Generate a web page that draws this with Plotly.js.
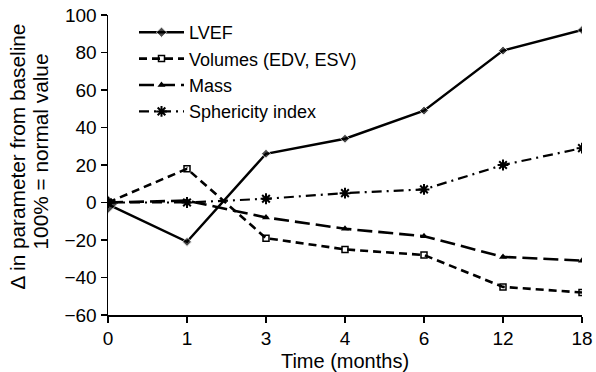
<!DOCTYPE html>
<html>
<head>
<meta charset="utf-8">
<script src="https://cdn.plot.ly/plotly-3.0.1.min.js"></script>
<style>html,body{margin:0;padding:0;background:#fff}#chart{width:596px;height:372px}</style>
</head>
<body>
<div id="chart"></div>
<script>
const months = ["0", "1", "3", "4", "6", "12", "18"];
const lvef = [-1, -21, 26, 34, 49, 81, 92];
const volumes = [0, 18, -19, -25, -28, -45, -48];
const mass = [0, 1, -8, -14, -18, -29, -31];
const sphericity = [0, 0, 2, 5, 7, 20, 29];
const seriesNames = ["LVEF", "Volumes (EDV, ESV)", "Mass", "Sphericity index"];
const yTitleLines = ["Δ in parameter from baseline", "100% = normal value"];
const xTitle = "Time (months)";

const FONT = "Liberation Sans, Arial, Helvetica, sans-serif";
const lvefSize = months.map((m, i) => i === 0 ? 14 : 7);

const traces = [
  {x: months, y: lvef, name: seriesNames[0], mode: "lines+markers",
   line: {color: "#000", width: 2.4, dash: "solid"},
   marker: {symbol: "diamond", size: lvefSize, color: "#000"}},
  {x: months, y: volumes, name: seriesNames[1], mode: "lines+markers",
   line: {color: "#000", width: 2.6, dash: "8px,5px"},
   marker: {symbol: "square-open", size: 6, color: "#000", line: {width: 1.5}}},
  {x: months, y: mass, name: seriesNames[2], mode: "lines+markers",
   line: {color: "#000", width: 2.6, dash: "15px,6px"},
   marker: {symbol: "triangle-up", size: 7, color: "#000"}},
  {x: months, y: sphericity, name: seriesNames[3], mode: "lines+markers",
   line: {color: "#000", width: 2.2, dash: "10px,5px,2px,5px"},
   marker: {symbol: "asterisk-open", size: 9, color: "#000", line: {width: 2, color: "#000"}}}
];

const PL = 108, PW = 474, PT = 15, PH = 300;
const px2x = p => (p - PL) / PW;
const px2y = p => 1 - (p - PT) / PH;

const layout = {
  width: 596, height: 372,
  margin: {l: PL, r: 596 - PL - PW, t: PT, b: 372 - PT - PH},
  paper_bgcolor: "#fff", plot_bgcolor: "#fff",
  font: {family: FONT, size: 19, color: "#000"},
  showlegend: true,
  legend: {x: px2x(134), y: px2y(14), xanchor: "left", yanchor: "top",
           bgcolor: "rgba(0,0,0,0)", font: {family: FONT, size: 18, color: "#000"},
           itemwidth: 45, tracegroupgap: 0},
  xaxis: {type: "category", range: [0, 6], showgrid: false, zeroline: false,
          showline: true, linecolor: "#000", linewidth: 1.5,
          ticks: "outside", ticklen: 6, tickcolor: "#000", tickwidth: 1.2,
          tickfont: {family: FONT, size: 19, color: "#000"},
          title: {text: xTitle, font: {family: FONT, size: 20, color: "#000"}, standoff: 6}},
  yaxis: {range: [-60, 100], dtick: 20, showgrid: false, zeroline: false,
          showline: true, linecolor: "#000", linewidth: 1.5,
          ticks: "outside", ticklen: 6, tickcolor: "#000", tickwidth: 1.2,
          tickfont: {family: FONT, size: 19, color: "#000"},
          tickformat: "d"},
  annotations: [
    {text: yTitleLines[0], xref: "paper", yref: "paper", x: px2x(17), y: px2y(156.5),
     xanchor: "center", yanchor: "middle", textangle: -90, showarrow: false,
     font: {family: FONT, size: 20.8, color: "#000"}},
    {text: yTitleLines[1], xref: "paper", yref: "paper", x: px2x(40), y: px2y(151.5),
     xanchor: "center", yanchor: "middle", textangle: -90, showarrow: false,
     font: {family: FONT, size: 20.8, color: "#000"}}
  ]
};

Plotly.newPlot("chart", traces, layout, {displayModeBar: false, staticPlot: true});
</script>
</body>
</html>
